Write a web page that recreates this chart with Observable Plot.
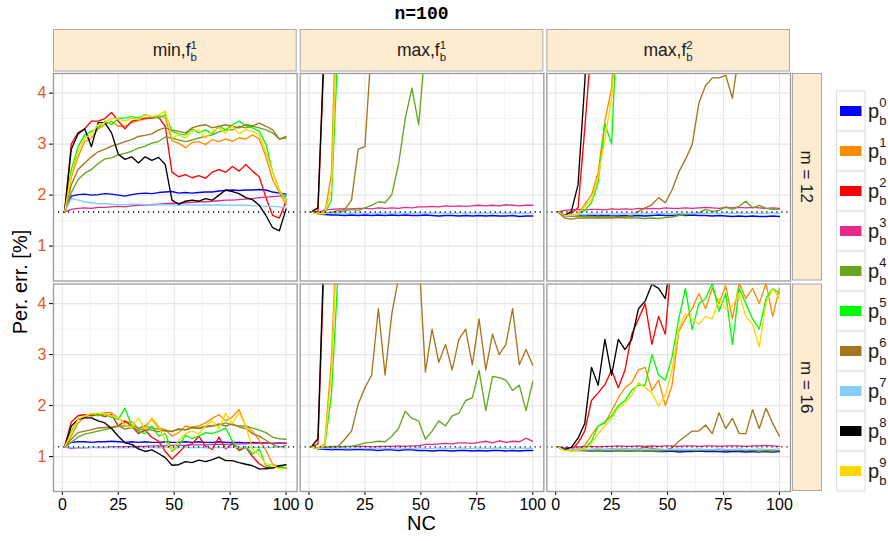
<!DOCTYPE html>
<html><head><meta charset="utf-8">
<script src="https://cdn.jsdelivr.net/npm/d3@7"></script>
<script src="https://cdn.jsdelivr.net/npm/@observablehq/plot@0.6"></script>
<style>
body{margin:0;background:#fff;font-family:"Liberation Sans",Arial,sans-serif;}
#title{height:29px;width:843px;text-align:center;font:bold 18px "Liberation Mono","DejaVu Sans Mono",monospace;line-height:29px;}
#chart svg{display:block;}
g[aria-label="y-axis tick label"] text, g[aria-label="y-axis"] .tick text {fill:#EE5522;}
</style></head><body>
<div id="title">n=100</div>
<div id="chart"></div>
<script>
// ---- data ----
const NC = [1,4,7,10,13,16,19,22,25,28,31,34,37,40,43,46,49,52,55,58,61,64,67,70,73,76,79,82,85,88,91,94,97,100];
const seriesKeys = ["p0","p1","p2","p3","p4","p5","p6","p7","p8","p9"];
const seriesColors = ["#0000FF","#FF8C00","#FF0000","#E7298A","#66A61E","#00FF00","#A6761D","#87CEFA","#000000","#FFD700"];
const colKeys = ["min,f1","max,f1","max,f2"];
const colParts = [["min,f","b","1"],["max,f","b","1"],["max,f","b","2"]];
const rowKeys = ["m = 12","m = 16"];
const baselineValues = [1.667, 1.19];
const xTicks = [0,25,50,75,100];
const xMinor = [12.5,37.5,62.5,87.5];
const yTicks = [1,2,3,4];
const yMinor = [0.5,1.5,2.5,3.5];
const N = null;

const minF1_m12 = {
  p0:[1.67,1.98,2.01,2.02,2.00,2.01,2.03,2.02,2.00,1.98,2.01,2.03,2.04,2.03,2.05,2.06,2.07,2.04,2.05,2.04,2.05,2.06,2.06,2.08,2.09,2.10,2.09,2.10,2.10,2.11,2.10,2.06,2.04,2.02],
  p1:[1.67,2.35,2.75,3.05,3.12,3.30,3.38,3.45,3.35,3.35,3.42,3.46,3.49,3.52,3.56,3.52,3.07,3.02,2.93,3.03,3.05,2.99,3.09,3.05,3.10,3.06,3.12,3.10,3.18,3.10,2.75,2.30,2.05,1.81],
  p2:[1.67,3.00,3.22,3.30,3.45,3.45,3.50,3.62,3.45,3.30,3.45,3.48,3.51,3.51,3.53,3.35,2.45,2.36,2.40,2.34,2.38,2.33,2.45,2.50,2.45,2.56,2.47,2.60,2.47,2.36,1.95,1.60,1.55,1.88],
  p3:[1.67,1.72,1.74,1.75,1.74,1.76,1.76,1.77,1.78,1.77,1.79,1.80,1.80,1.81,1.82,1.83,1.84,1.84,1.85,1.86,1.87,1.87,1.88,1.89,1.90,1.90,1.91,1.92,1.93,1.95,1.96,1.97,1.98,1.98],
  p4:[1.67,2.05,2.30,2.43,2.50,2.62,2.71,2.73,2.79,2.82,2.86,2.92,2.96,3.02,3.05,3.14,3.12,3.08,3.05,3.08,3.12,3.15,3.18,3.24,3.28,3.28,3.35,3.32,3.35,3.32,3.28,3.22,3.10,3.12],
  p5:[1.67,2.50,2.95,3.18,3.25,3.32,3.45,3.38,3.51,3.51,3.54,3.51,3.58,3.54,3.51,3.58,3.25,3.20,3.18,3.30,3.22,3.28,3.20,3.35,3.28,3.38,3.45,3.36,3.32,3.25,3.00,2.45,2.10,1.92],
  p6:[1.67,2.20,2.50,2.63,2.75,2.85,2.90,2.96,3.00,3.05,3.09,3.15,3.17,3.20,3.28,3.32,3.28,3.25,3.22,3.32,3.36,3.38,3.32,3.35,3.38,3.35,3.32,3.38,3.36,3.41,3.35,3.28,3.10,3.15],
  p7:[1.67,1.93,1.90,1.87,1.85,1.83,1.83,1.82,1.81,1.81,1.82,1.82,1.81,1.80,1.81,1.81,1.81,1.80,1.81,1.81,1.80,1.81,1.80,1.81,1.80,1.80,1.80,1.80,1.79,1.79,1.78,1.78,1.77,1.76],
  p8:[1.67,2.90,3.20,3.30,2.95,3.42,3.42,3.22,2.80,2.70,2.75,2.63,2.75,2.68,2.74,2.60,1.90,1.82,1.88,1.90,1.88,1.93,1.90,2.00,2.10,2.07,2.03,1.95,1.91,1.80,1.60,1.36,1.30,1.73],
  p9:[1.67,2.40,2.85,3.12,3.20,3.38,3.42,3.51,3.49,3.45,3.51,3.48,3.57,3.54,3.57,3.65,3.12,3.18,3.12,3.25,3.28,3.12,3.25,3.32,3.22,3.35,3.20,3.28,3.25,3.18,2.85,2.45,2.10,1.84]
};
const maxF1_m12 = {
  p0:[1.67,1.63,1.62,1.61,1.61,1.60,1.61,1.60,1.61,1.60,1.61,1.60,1.61,1.60,1.61,1.60,1.60,1.61,1.60,1.59,1.60,1.60,1.59,1.60,1.59,1.60,1.59,1.60,1.59,1.59,1.60,1.58,1.59,1.59],
  p1:[1.67,1.64,1.63,2.40,7.00,N,N,N,N,N,N,N,N,N,N,N,N,N,N,N,N,N,N,N,N,N,N,N,N,N,N,N,N,N],
  p2:[1.67,1.68,5.00,N,N,N,N,N,N,N,N,N,N,N,N,N,N,N,N,N,N,N,N,N,N,N,N,N,N,N,N,N,N,N],
  p3:[1.67,1.64,1.71,1.72,1.73,1.73,1.73,1.74,1.74,1.73,1.75,1.74,1.75,1.74,1.76,1.75,1.77,1.77,1.78,1.77,1.79,1.78,1.79,1.78,1.79,1.80,1.79,1.80,1.79,1.81,1.80,1.79,1.80,1.80],
  p4:[1.67,1.64,1.64,1.65,1.66,1.69,1.72,1.70,1.75,1.80,1.87,1.85,2.01,2.60,3.50,4.10,3.38,4.90,N,N,N,N,N,N,N,N,N,N,N,N,N,N,N,N],
  p5:[1.67,1.64,1.64,1.90,5.00,N,N,N,N,N,N,N,N,N,N,N,N,N,N,N,N,N,N,N,N,N,N,N,N,N,N,N,N,N],
  p6:[1.67,1.64,1.65,1.66,1.70,1.72,1.90,2.90,2.95,5.00,N,N,N,N,N,N,N,N,N,N,N,N,N,N,N,N,N,N,N,N,N,N,N,N],
  p7:[1.67,1.64,1.64,1.64,1.65,1.64,1.64,1.65,1.64,1.64,1.65,1.64,1.64,1.65,1.64,1.64,1.65,1.64,1.64,1.65,1.64,1.64,1.65,1.64,1.64,1.65,1.64,1.64,1.65,1.64,1.64,1.65,1.64,1.64],
  p8:[1.67,1.75,5.20,N,N,N,N,N,N,N,N,N,N,N,N,N,N,N,N,N,N,N,N,N,N,N,N,N,N,N,N,N,N,N],
  p9:[1.67,1.63,1.64,2.10,5.90,N,N,N,N,N,N,N,N,N,N,N,N,N,N,N,N,N,N,N,N,N,N,N,N,N,N,N,N,N]
};
const maxF2_m12 = {
  p0:[1.67,1.60,1.59,1.60,1.59,1.60,1.59,1.60,1.59,1.59,1.60,1.59,1.60,1.59,1.60,1.61,1.60,1.60,1.61,1.60,1.61,1.60,1.60,1.59,1.60,1.59,1.58,1.59,1.58,1.59,1.58,1.58,1.59,1.58],
  p1:[1.67,1.60,1.60,1.63,1.82,2.00,2.45,3.45,4.10,6.00,N,N,N,N,N,N,N,N,N,N,N,N,N,N,N,N,N,N,N,N,N,N,N,N],
  p2:[1.67,1.61,1.64,1.75,3.30,5.00,N,N,N,N,N,N,N,N,N,N,N,N,N,N,N,N,N,N,N,N,N,N,N,N,N,N,N,N],
  p3:[1.67,1.70,1.71,1.72,1.71,1.72,1.72,1.71,1.73,1.72,1.73,1.72,1.74,1.73,1.74,1.73,1.75,1.74,1.74,1.75,1.74,1.75,1.76,1.75,1.74,1.76,1.75,1.76,1.75,1.76,1.75,1.74,1.75,1.74],
  p4:[1.67,1.60,1.60,1.59,1.58,1.58,1.57,1.57,1.58,1.56,1.55,1.55,1.55,1.54,1.55,1.54,1.56,1.57,1.60,1.62,1.63,1.65,1.72,1.68,1.70,1.77,1.72,1.78,1.88,1.75,1.80,1.74,1.72,1.72],
  p5:[1.67,1.60,1.61,1.62,1.70,1.85,2.25,3.40,3.00,6.00,N,N,N,N,N,N,N,N,N,N,N,N,N,N,N,N,N,N,N,N,N,N,N,N],
  p6:[1.67,1.55,1.53,1.55,1.55,1.55,1.55,1.55,1.55,1.56,1.57,1.60,1.68,1.75,1.81,1.95,1.85,2.10,2.45,2.70,2.99,3.80,4.15,4.30,4.30,4.35,3.90,4.80,N,N,N,N,N,N],
  p7:[1.67,1.62,1.62,1.63,1.62,1.63,1.63,1.62,1.63,1.63,1.64,1.63,1.63,1.64,1.63,1.64,1.64,1.63,1.64,1.64,1.65,1.64,1.64,1.65,1.64,1.65,1.64,1.65,1.64,1.65,1.64,1.64,1.65,1.64],
  p8:[1.67,1.60,1.68,2.20,4.20,7.00,N,N,N,N,N,N,N,N,N,N,N,N,N,N,N,N,N,N,N,N,N,N,N,N,N,N,N,N],
  p9:[1.67,1.60,1.60,1.62,1.78,1.90,2.35,3.10,3.90,5.50,N,N,N,N,N,N,N,N,N,N,N,N,N,N,N,N,N,N,N,N,N,N,N,N]
};
const minF1_m16 = {
  p0:[1.19,1.28,1.29,1.29,1.28,1.29,1.29,1.30,1.29,1.28,1.29,1.28,1.29,1.28,1.28,1.29,1.28,1.28,1.29,1.28,1.29,1.28,1.28,1.29,1.28,1.28,1.28,1.27,1.28,1.27,1.27,1.26,1.27,1.26],
  p1:[1.19,1.40,1.66,1.77,1.83,1.83,1.86,1.86,1.75,1.66,1.69,1.55,1.60,1.73,1.56,1.53,1.40,1.47,1.60,1.57,1.60,1.66,1.75,1.82,1.70,1.78,1.92,1.60,1.50,1.32,1.12,0.85,0.80,0.78],
  p2:[1.19,1.68,1.80,1.82,1.80,1.82,1.79,1.82,1.60,1.70,1.60,1.45,1.52,1.38,1.30,1.10,0.95,1.08,1.21,1.25,1.40,1.20,1.14,1.38,1.15,1.25,1.12,1.18,1.00,0.86,0.78,0.78,0.80,0.77],
  p3:[1.19,1.16,1.17,1.17,1.18,1.18,1.18,1.19,1.19,1.19,1.20,1.20,1.20,1.21,1.21,1.21,1.22,1.22,1.22,1.23,1.23,1.23,1.24,1.24,1.24,1.25,1.25,1.25,1.26,1.26,1.26,1.26,1.27,1.27],
  p4:[1.19,1.28,1.38,1.44,1.47,1.50,1.53,1.56,1.60,1.60,1.62,1.56,1.60,1.56,1.54,1.50,1.50,1.53,1.53,1.56,1.56,1.60,1.60,1.62,1.66,1.62,1.60,1.60,1.56,1.52,1.47,1.38,1.35,1.34],
  p5:[1.19,1.50,1.73,1.80,1.84,1.80,1.84,1.77,1.73,1.95,1.60,1.50,1.45,1.60,1.40,1.45,1.10,1.21,1.42,1.35,1.40,1.47,1.45,1.50,1.56,1.30,1.15,1.20,1.05,1.15,0.82,0.78,0.80,0.78],
  p6:[1.19,1.34,1.47,1.50,1.53,1.56,1.57,1.58,1.60,1.54,1.57,1.52,1.55,1.52,1.49,1.52,1.49,1.55,1.52,1.58,1.55,1.58,1.60,1.64,1.60,1.64,1.58,1.55,1.45,1.40,1.32,1.24,1.18,1.22],
  p7:[1.19,1.18,1.17,1.17,1.18,1.17,1.17,1.18,1.17,1.17,1.18,1.17,1.17,1.18,1.17,1.18,1.17,1.17,1.18,1.17,1.18,1.17,1.17,1.18,1.17,1.18,1.18,1.17,1.18,1.18,1.17,1.18,1.18,1.17],
  p8:[1.19,1.60,1.73,1.76,1.76,1.70,1.66,1.55,1.40,1.27,1.24,1.15,1.10,1.13,1.06,0.98,0.83,0.84,0.90,0.88,0.93,0.90,0.94,0.99,0.92,0.92,0.88,0.85,0.82,0.76,0.76,0.78,0.82,0.84],
  p9:[1.19,1.45,1.73,1.80,1.84,1.85,1.84,1.80,1.76,1.62,1.57,1.76,1.54,1.76,1.60,1.30,1.12,1.32,1.45,1.50,1.45,1.60,1.70,1.55,1.85,1.65,1.86,1.60,1.15,1.03,0.86,0.83,0.76,0.76]
};
const maxF1_m16 = {
  p0:[1.19,1.15,1.14,1.13,1.14,1.13,1.13,1.14,1.13,1.13,1.12,1.13,1.13,1.12,1.13,1.13,1.12,1.12,1.11,1.12,1.12,1.11,1.12,1.12,1.11,1.12,1.11,1.12,1.12,1.11,1.12,1.11,1.12,1.12],
  p1:[1.19,1.16,1.25,2.90,6.00,N,N,N,N,N,N,N,N,N,N,N,N,N,N,N,N,N,N,N,N,N,N,N,N,N,N,N,N,N],
  p2:[1.19,1.25,5.20,N,N,N,N,N,N,N,N,N,N,N,N,N,N,N,N,N,N,N,N,N,N,N,N,N,N,N,N,N,N,N],
  p3:[1.19,1.17,1.18,1.19,1.19,1.20,1.20,1.20,1.20,1.19,1.20,1.20,1.20,1.21,1.20,1.21,1.21,1.24,1.24,1.25,1.26,1.25,1.27,1.27,1.26,1.28,1.30,1.27,1.31,1.28,1.30,1.29,1.36,1.30],
  p4:[1.19,1.17,1.18,1.17,1.18,1.19,1.20,1.23,1.27,1.28,1.30,1.29,1.40,1.55,1.89,1.75,1.70,1.34,1.50,1.70,1.60,1.80,1.85,2.10,2.15,2.69,1.90,2.57,2.55,2.50,2.30,2.40,1.90,2.47],
  p5:[1.19,1.15,1.20,2.20,4.60,N,N,N,N,N,N,N,N,N,N,N,N,N,N,N,N,N,N,N,N,N,N,N,N,N,N,N,N,N],
  p6:[1.19,1.17,1.18,1.20,1.20,1.34,1.50,2.03,2.35,2.60,3.90,2.60,3.80,4.50,N,N,5.00,2.66,3.50,2.85,3.20,2.70,3.30,3.50,2.80,3.70,2.70,3.40,3.00,3.20,3.90,2.80,3.10,2.79],
  p7:[1.19,1.16,1.16,1.16,1.17,1.16,1.16,1.17,1.16,1.16,1.17,1.16,1.16,1.17,1.16,1.16,1.17,1.16,1.16,1.17,1.16,1.16,1.17,1.16,1.16,1.17,1.16,1.16,1.17,1.16,1.16,1.17,1.16,1.16],
  p8:[1.19,1.35,5.50,N,N,N,N,N,N,N,N,N,N,N,N,N,N,N,N,N,N,N,N,N,N,N,N,N,N,N,N,N,N,N],
  p9:[1.19,1.16,1.22,2.60,5.60,N,N,N,N,N,N,N,N,N,N,N,N,N,N,N,N,N,N,N,N,N,N,N,N,N,N,N,N,N]
};
const maxF2_m16 = {
  p0:[1.19,1.13,1.12,1.12,1.12,1.11,1.12,1.11,1.11,1.12,1.11,1.11,1.12,1.11,1.11,1.10,1.10,1.11,1.09,1.10,1.10,1.11,1.10,1.10,1.10,1.09,1.10,1.10,1.09,1.10,1.09,1.10,1.09,1.10],
  p1:[1.19,1.13,1.12,1.15,1.22,1.42,1.60,1.65,1.90,2.15,2.35,2.45,2.70,2.75,2.30,2.50,2.00,2.40,3.45,3.70,3.90,4.20,3.90,4.30,4.00,4.35,3.70,4.40,4.10,4.30,4.00,4.40,3.75,4.30],
  p2:[1.19,1.14,1.13,1.27,1.50,2.10,2.25,2.41,2.70,2.35,2.70,3.40,3.70,4.00,3.20,3.75,3.40,5.00,N,N,N,N,N,N,N,N,N,N,N,N,N,N,N,N],
  p3:[1.19,1.17,1.18,1.19,1.19,1.20,1.19,1.20,1.20,1.21,1.20,1.20,1.21,1.20,1.21,1.20,1.21,1.21,1.20,1.21,1.21,1.20,1.21,1.21,1.20,1.21,1.21,1.21,1.20,1.21,1.21,1.22,1.21,1.20],
  p4:[1.19,1.13,1.12,1.13,1.12,1.12,1.11,1.12,1.12,1.11,1.12,1.11,1.12,1.11,1.12,1.11,1.12,1.13,1.12,1.13,1.12,1.12,1.13,1.12,1.14,1.12,1.13,1.12,1.13,1.12,1.11,1.12,1.11,1.12],
  p5:[1.19,1.13,1.12,1.13,1.16,1.30,1.60,1.68,1.80,2.00,2.10,2.30,2.40,2.40,3.00,2.60,2.50,2.95,3.70,4.30,3.49,4.00,4.10,4.40,3.85,4.20,3.20,4.30,4.00,3.70,3.50,4.10,4.30,4.20],
  p6:[1.19,1.13,1.12,1.13,1.13,1.14,1.14,1.14,1.15,1.14,1.15,1.14,1.15,1.18,1.16,1.14,1.13,1.17,1.30,1.40,1.50,1.50,1.62,1.45,1.86,1.55,1.75,1.45,1.45,1.92,1.55,1.95,1.65,1.40],
  p7:[1.19,1.14,1.14,1.15,1.14,1.14,1.15,1.14,1.14,1.15,1.14,1.14,1.15,1.14,1.14,1.15,1.14,1.14,1.15,1.14,1.14,1.15,1.14,1.14,1.15,1.14,1.14,1.15,1.14,1.14,1.15,1.14,1.14,1.15],
  p8:[1.19,1.14,1.18,1.36,1.65,2.75,2.40,3.30,2.60,3.30,3.10,3.30,3.90,4.05,4.38,4.30,4.10,5.00,N,N,N,N,N,N,N,N,N,N,N,N,N,N,N,N],
  p9:[1.19,1.12,1.11,1.12,1.15,1.25,1.45,1.60,1.75,1.95,2.05,2.20,2.45,2.35,2.25,1.99,2.20,2.70,3.50,3.80,3.70,3.60,3.75,3.70,4.10,3.90,3.95,4.20,3.75,3.60,3.15,4.00,4.30,4.10]
};

const panels = [
  {col: colKeys[0], row: rowKeys[0], data: minF1_m12},
  {col: colKeys[1], row: rowKeys[0], data: maxF1_m12},
  {col: colKeys[2], row: rowKeys[0], data: maxF2_m12},
  {col: colKeys[0], row: rowKeys[1], data: minF1_m16},
  {col: colKeys[1], row: rowKeys[1], data: maxF1_m16},
  {col: colKeys[2], row: rowKeys[1], data: maxF2_m16}
];
const table = [];
for (const p of panels) for (const s of seriesKeys) p.data[s].forEach((v, i) => table.push({col: p.col, row: p.row, s, nc: NC[i], v}));
const baseTable = [];
rowKeys.forEach((r, i) => colKeys.forEach(c => baseTable.push({col: c, row: r, v: baselineValues[i]})));

// ---- layout ----
const W = 888, H = 512, mL = 53, mR = 98, mT = 44, mB = 50;
const padX = 9 / 740, padY = 6 / 421;

const chart = Plot.plot({
  width: W, height: H,
  marginLeft: mL, marginRight: mR, marginTop: mT, marginBottom: mB,
  style: {fontFamily: '"Liberation Sans", Arial, sans-serif', fontSize: "16px", background: "white", overflow: "visible"},
  fx: {domain: colKeys, paddingInner: padX, paddingOuter: 0, axis: null, round: false},
  fy: {domain: rowKeys, paddingInner: padY, paddingOuter: 0, axis: null, round: false},
  x: {domain: [-3.95, 104.95], ticks: xTicks, tickFormat: d => String(d), tickSize: 4, tickPadding: 3, label: null},
  y: {domain: [0.315, 4.385], ticks: yTicks, tickFormat: d => String(d), tickSize: 4, tickPadding: 3, label: null},
  color: {domain: seriesKeys, range: seriesColors},
  marks: [
    Plot.ruleX(xMinor, {stroke: "#f3f3f3", strokeWidth: 1}),
    Plot.ruleY(yMinor, {stroke: "#f3f3f3", strokeWidth: 1}),
    Plot.ruleX(xTicks, {stroke: "#e6e6e6", strokeWidth: 1.1}),
    Plot.ruleY(yTicks, {stroke: "#e6e6e6", strokeWidth: 1.1}),
    Plot.line(table, {x: "nc", y: "v", z: "s", stroke: "s", fx: "col", fy: "row", clip: true, strokeWidth: 1.35, strokeLinejoin: "round"}),
    Plot.ruleY(baseTable, {y: "v", fx: "col", fy: "row", stroke: "#000", strokeWidth: 1.4, strokeDasharray: "1.2,3.8"}),
    Plot.frame({stroke: "#9a9a9a", strokeWidth: 1.3})
  ]
});
document.getElementById("chart").appendChild(chart);

// ---- strips, axis titles, legend ----
function bandOf(desc, dom, range, pi) {
  if (desc && typeof desc.apply === "function" && desc.bandwidth) return {pos: v => desc.apply(v), bw: desc.bandwidth};
  const s = d3.scaleBand(dom, range).paddingInner(pi).paddingOuter(0);
  return {pos: v => s(v), bw: s.bandwidth()};
}
let fxD, fyD;
try { fxD = chart.scale("fx"); fyD = chart.scale("fy"); } catch (e) {}
const BX = bandOf(fxD, colKeys, [mL, W - mR], padX);
const BY = bandOf(fyD, rowKeys, [mT, H - mB], padY);

const svg = d3.select(chart);
const g = svg.append("g").attr("font-family", '"Liberation Sans", Arial, sans-serif').attr("text-anchor", "start");
const stripFill = "#FDEBD2", stripStroke = "#a8a8a8";

colKeys.forEach((c, i) => {
  const x0 = BX.pos(c);
  g.append("rect").attr("x", x0 + 0.5).attr("y", 0.5).attr("width", BX.bw - 1).attr("height", 41.5)
    .attr("fill", stripFill).attr("stroke", stripStroke).attr("stroke-width", 1);
  const t = g.append("text").attr("x", x0 + BX.bw / 2).attr("y", 27).attr("text-anchor", "middle")
    .attr("font-size", 17.5).attr("fill", "#1a1a1a");
  const [main, sub, sup] = colParts[i];
  t.append("tspan").text(main);
  t.append("tspan").attr("font-size", 11.5).attr("dy", 5).text(sub);
  t.append("tspan").attr("font-size", 11.5).attr("dx", -6.4).attr("dy", -12).text(sup);
});

const stripX = W - mR + 2;
rowKeys.forEach(r => {
  const y0 = BY.pos(r);
  g.append("rect").attr("x", stripX + 0.5).attr("y", y0 + 0.5).attr("width", 29).attr("height", BY.bw - 1)
    .attr("fill", stripFill).attr("stroke", stripStroke).attr("stroke-width", 1);
  g.append("text").attr("transform", `translate(${stripX + 15},${y0 + BY.bw / 2}) rotate(90)`)
    .attr("text-anchor", "middle").attr("dy", "0.35em").attr("font-size", 17).attr("fill", "#1a1a1a").text(r);
});

// axis titles
g.append("text").attr("transform", `translate(20,${(mT + H - mB) / 2}) rotate(-90)`)
  .attr("text-anchor", "middle").attr("dy", "0.35em").attr("font-size", 20).attr("fill", "#000").text("Per. err. [%]");
g.append("text").attr("x", (mL + W - mR) / 2).attr("y", 494).attr("text-anchor", "middle").attr("dy", "0.35em")
  .attr("font-size", 20).attr("fill", "#000").text("NC");

// legend
const lgX = 836.5, lgY = 62, cellH = 40, cellW = 28.5;
seriesKeys.forEach((s, i) => {
  const y0 = lgY + i * cellH;
  g.append("rect").attr("x", lgX).attr("y", y0).attr("width", cellW).attr("height", cellH)
    .attr("fill", "#fff").attr("stroke", "#dcdcdc").attr("stroke-width", 1);
  g.append("rect").attr("x", lgX + 3.5).attr("y", y0 + cellH / 2 - 5).attr("width", 21.5).attr("height", 10)
    .attr("fill", seriesColors[i]);
  const t = g.append("text").attr("x", 868).attr("y", y0 + cellH / 2 + 6.5).attr("text-anchor", "start")
    .attr("font-size", 20).attr("fill", "#1a1a1a");
  t.append("tspan").text("p");
  t.append("tspan").attr("font-size", 13).attr("dy", 7.5).text("b");
  t.append("tspan").attr("font-size", 13).attr("dx", -7.2).attr("dy", -18).text(String(i));
});
</script>
</body></html>
